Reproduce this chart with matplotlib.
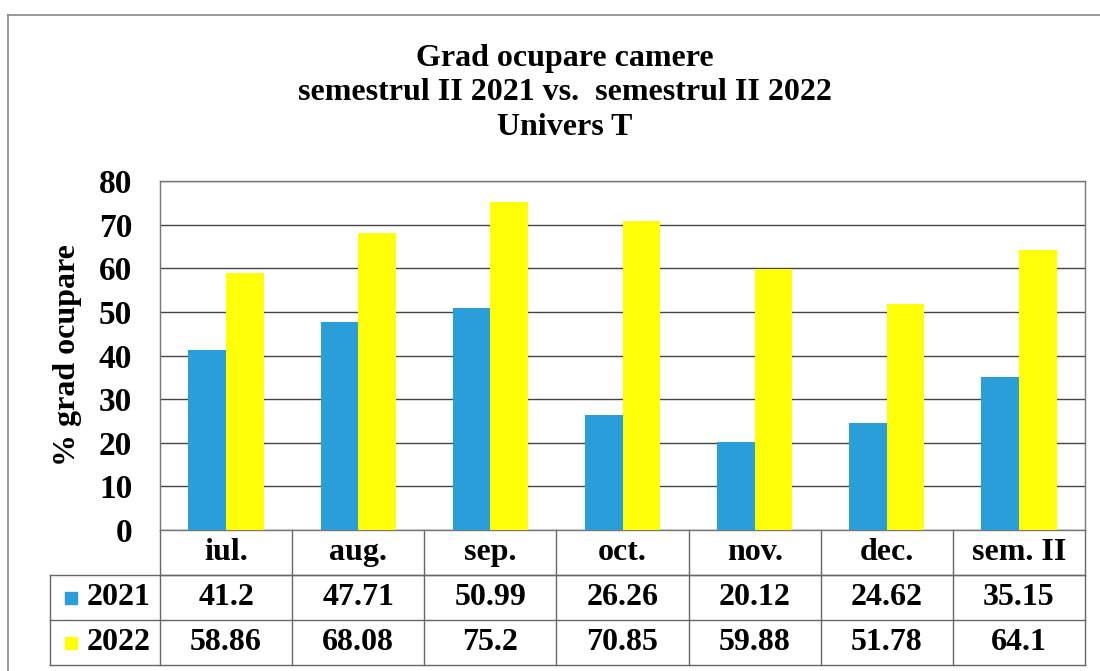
import numpy as np
import matplotlib.pyplot as plt
from matplotlib.transforms import blended_transform_factory
from matplotlib.lines import Line2D
from matplotlib.patches import Rectangle

plt.rcParams['font.family'] = ['Liberation Serif', 'DejaVu Serif']
plt.rcParams['font.weight'] = 'bold'

months = ['iul.', 'aug.', 'sep.', 'oct.', 'nov.', 'dec.', 'sem. II']
series_names = ['2021', '2022']
vals_2021 = [41.2, 47.71, 50.99, 26.26, 20.12, 24.62, 35.15]
vals_2022 = [58.86, 68.08, 75.2, 70.85, 59.88, 51.78, 64.1]
labels_2021 = ['41.2', '47.71', '50.99', '26.26', '20.12', '24.62', '35.15']
labels_2022 = ['58.86', '68.08', '75.2', '70.85', '59.88', '51.78', '64.1']
colors = ['#2A9ED8', '#FFFF0A']

W, H = 1100, 671
fig = plt.figure(figsize=(W / 100, H / 100), dpi=100)
ax = fig.add_axes([160 / W, 1 - 530 / H, 925 / W, 349 / H])

x = np.arange(len(months))
bw = 0.285
ax.bar(x - bw / 2, vals_2021, bw, color=colors[0], zorder=3)
ax.bar(x + bw / 2, vals_2022, bw, color=colors[1], zorder=3)

ax.set_xlim(-0.5, len(months) - 0.5)
ax.set_ylim(0, 80)
ax.set_yticks(range(0, 81, 10))
ax.set_xticks([])
ax.tick_params(axis='y', length=0, pad=20, labelsize=24)
for lab in ax.get_yticklabels():
    lab.set_fontweight('bold')
ax.yaxis.grid(True, color='#444444', linewidth=1.0, zorder=0)
for s in ax.spines.values():
    s.set_color('#777777')
    s.set_linewidth(1.0)
ax.set_ylabel('% grad ocupare', fontsize=23, fontweight='bold', labelpad=12)

# data table below the plot
tr = blended_transform_factory(ax.transData, ax.transAxes)
rh = 45 / 349
left = -0.5 - 110 / 132.1
right = len(months) - 0.5
lc = '#666666'

def hline(x0, x1, y):
    ax.add_line(Line2D([x0, x1], [y, y], transform=tr, color=lc, lw=1.0, clip_on=False))

def vline(xx, y0, y1):
    ax.add_line(Line2D([xx, xx], [y0, y1], transform=tr, color=lc, lw=1.0, clip_on=False))

hline(-0.5, right, -rh)
hline(left, right, -rh)
hline(left, right, -2 * rh)
hline(left, right, -3 * rh)
vline(left, -rh, -3 * rh)
for i in range(len(months) + 1):
    vline(i - 0.5, 0, -3 * rh)

fs = 23
for i, m in enumerate(months):
    ax.text(i, -0.5 * rh, m, transform=tr, ha='center', va='center', fontsize=fs, fontweight='bold')
    ax.text(i, -1.5 * rh, labels_2021[i], transform=tr, ha='center', va='center', fontsize=fs, fontweight='bold')
    ax.text(i, -2.5 * rh, labels_2022[i], transform=tr, ha='center', va='center', fontsize=fs, fontweight='bold')

for k, name in enumerate(series_names):
    yc = -(1.5 + k) * rh
    ax.add_patch(Rectangle((left + 15 / 132.1, yc - 6 / 349), 12 / 132.1, 12 / 349, transform=tr,
                           color=colors[k], clip_on=False))
    ax.text(-0.5 - 9 / 132.1, yc, name, transform=tr, ha='right', va='center', fontsize=fs, fontweight='bold')

fig.text(565 / W, 1 - 93 / H, 'Grad ocupare camere\nsemestrul II 2021 vs.  semestrul II 2022\nUnivers T',
         ha='center', va='center', fontsize=23, fontweight='bold', linespacing=1.25)

# outer chart frame
fig.add_artist(Line2D([8 / W, 8 / W], [0, 1 - 15 / H], transform=fig.transFigure, color='#888888', lw=1.2))
fig.add_artist(Line2D([8 / W, 1], [1 - 15 / H, 1 - 15 / H], transform=fig.transFigure, color='#888888', lw=1.2))

fig.savefig('out.png', dpi=100)
